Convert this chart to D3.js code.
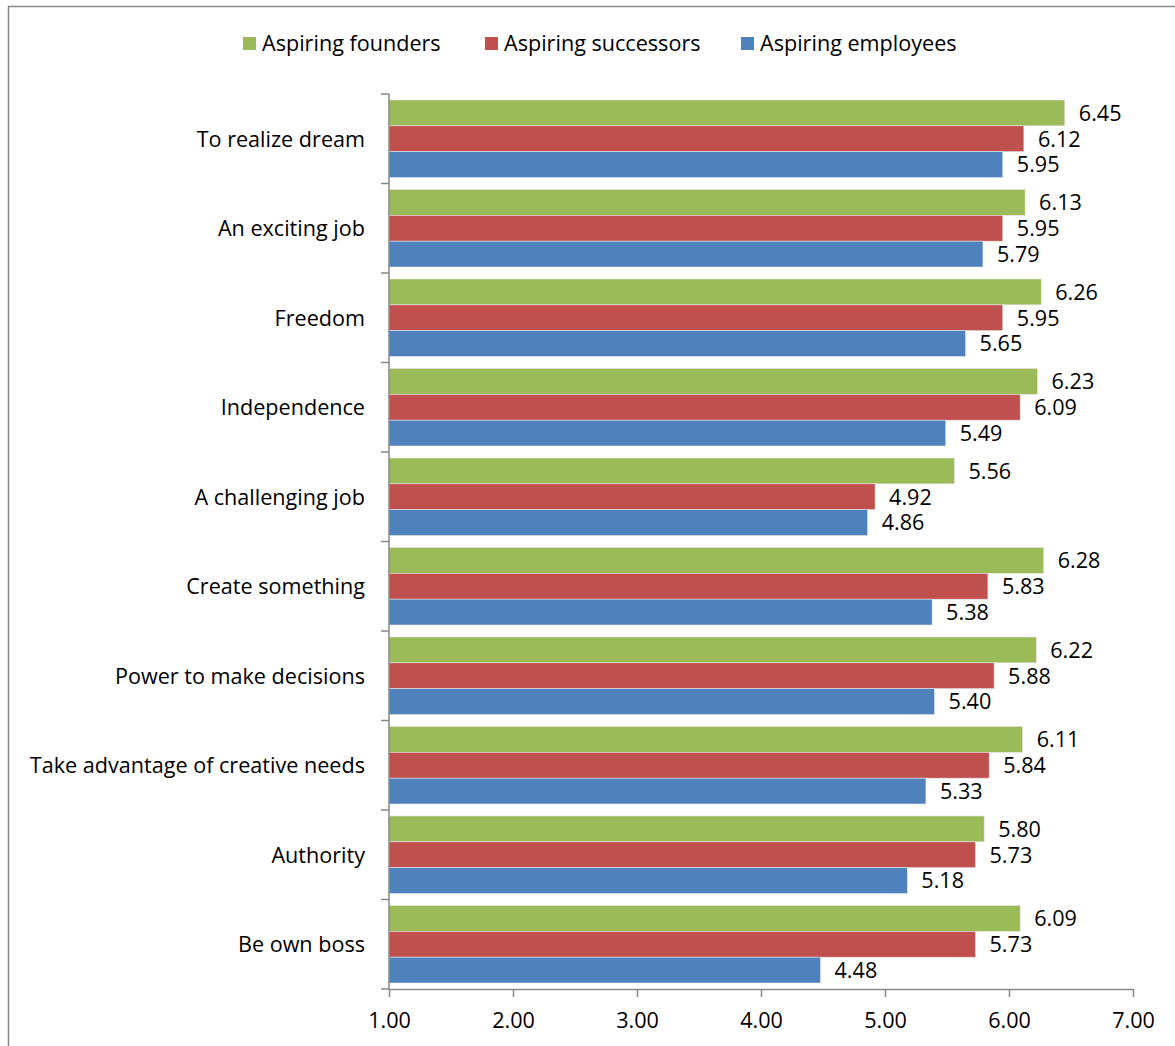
<!DOCTYPE html>
<html>
<head>
<meta charset="utf-8">
<script src="https://cdn.jsdelivr.net/npm/d3@7"></script>
<style>
  html, body { margin: 0; padding: 0; background: #fff; }
  svg { display: block; font-family: "Open Sans", Lato, sans-serif; }
</style>
</head>
<body>
<svg id="chart" width="1175" height="1046"></svg>
<script>
// Motives, top to bottom
const categories = [
  "To realize dream", "An exciting job", "Freedom", "Independence",
  "A challenging job", "Create something", "Power to make decisions",
  "Take advantage of creative needs", "Authority", "Be own boss"
];
const seriesNames = ["Aspiring founders", "Aspiring successors", "Aspiring employees"];
const seriesColors = ["#9BBB59", "#C0504D", "#4F81BD"];
const founders   = [6.45, 6.13, 6.26, 6.23, 5.56, 6.28, 6.22, 6.11, 5.80, 6.09];
const successors = [6.12, 5.95, 5.95, 6.09, 4.92, 5.83, 5.88, 5.84, 5.73, 5.73];
const employees  = [5.95, 5.79, 5.65, 5.49, 4.86, 5.38, 5.40, 5.33, 5.18, 4.48];
const tickValues = [1, 2, 3, 4, 5, 6, 7];

const series = [founders, successors, employees];
const FONT = "'Open Sans', Lato, sans-serif";
const FS = 21.6;

const svg = d3.select("#chart");
const W = 1175, H = 1046;

// outer chart border
svg.append("rect")
  .attr("x", 8.5).attr("y", 6.5)
  .attr("width", W).attr("height", H)
  .attr("fill", "none").attr("stroke", "#878787").attr("stroke-width", 1.5);

const plot = { left: 389, right: 1133, top: 94, bottom: 989 };

const x = d3.scaleLinear().domain([1, 7]).range([plot.left, plot.right]);
const y = d3.scaleBand().domain(categories).range([plot.top, plot.bottom]).paddingInner(0.134).paddingOuter(0.067);
const ySub = d3.scaleBand().domain(d3.range(series.length)).range([0, y.bandwidth()]);

// bars
const groups = svg.append("g").selectAll("g")
  .data(categories)
  .join("g")
  .attr("transform", d => `translate(0,${y(d)})`);

series.forEach((vals, si) => {
  groups.append("rect")
    .attr("x", x(1))
    .attr("y", ySub(si))
    .attr("width", (d, i) => x(vals[i]) - x(1))
    .attr("height", ySub.bandwidth())
    .attr("fill", seriesColors[si])
    .attr("stroke", "#e6e6e6")
    .attr("stroke-width", 0.6);

  groups.append("text")
    .attr("x", (d, i) => x(vals[i]) + 14)
    .attr("y", ySub(si) + ySub.bandwidth() / 2)
    .attr("dy", "0.36em")
    .attr("font-size", FS)
    .attr("fill", "#000")
    .text((d, i) => d3.format(".2f")(vals[i]));
});

// y axis with category separators
const yTickPos = d3.range(categories.length + 1).map(i => plot.top + i * (plot.bottom - plot.top) / categories.length);
const yAxis = svg.append("g");
yAxis.append("line")
  .attr("x1", plot.left).attr("x2", plot.left)
  .attr("y1", plot.top).attr("y2", plot.bottom)
  .attr("stroke", "#878787").attr("stroke-width", 1.5);
yAxis.selectAll("line.tick")
  .data(yTickPos)
  .join("line")
  .attr("class", "tick")
  .attr("x1", plot.left - 8).attr("x2", plot.left)
  .attr("y1", d => d).attr("y2", d => d)
  .attr("stroke", "#878787").attr("stroke-width", 1.5);
yAxis.selectAll("text")
  .data(categories)
  .join("text")
  .attr("x", plot.left - 24)
  .attr("y", d => y(d) + y.bandwidth() / 2)
  .attr("dy", "0.36em")
  .attr("text-anchor", "end")
  .attr("font-size", FS)
  .attr("fill", "#000")
  .text(d => d);

// x axis
const xAxis = svg.append("g")
  .attr("transform", `translate(0,${plot.bottom})`)
  .call(d3.axisBottom(x).tickValues(tickValues).tickFormat(d3.format(".2f")).tickSize(8).tickSizeOuter(0).tickPadding(16));
xAxis.select(".domain").attr("stroke", "#878787").attr("stroke-width", 1.5);
xAxis.selectAll(".tick line").attr("stroke", "#878787").attr("stroke-width", 1.5);
xAxis.selectAll(".tick text")
  .attr("font-size", FS)
  .attr("font-family", FONT)
  .attr("fill", "#000");

// legend
const legendX = [243, 485, 741];
const legend = svg.append("g").selectAll("g")
  .data(seriesNames)
  .join("g")
  .attr("transform", (d, i) => `translate(${legendX[i]},37)`);
legend.append("rect")
  .attr("width", 13).attr("height", 13)
  .attr("fill", (d, i) => seriesColors[i]);
legend.append("text")
  .attr("x", 19).attr("y", 6.5)
  .attr("dy", "0.36em")
  .attr("font-size", FS)
  .attr("fill", "#000")
  .text(d => d);
</script>
</body>
</html>
